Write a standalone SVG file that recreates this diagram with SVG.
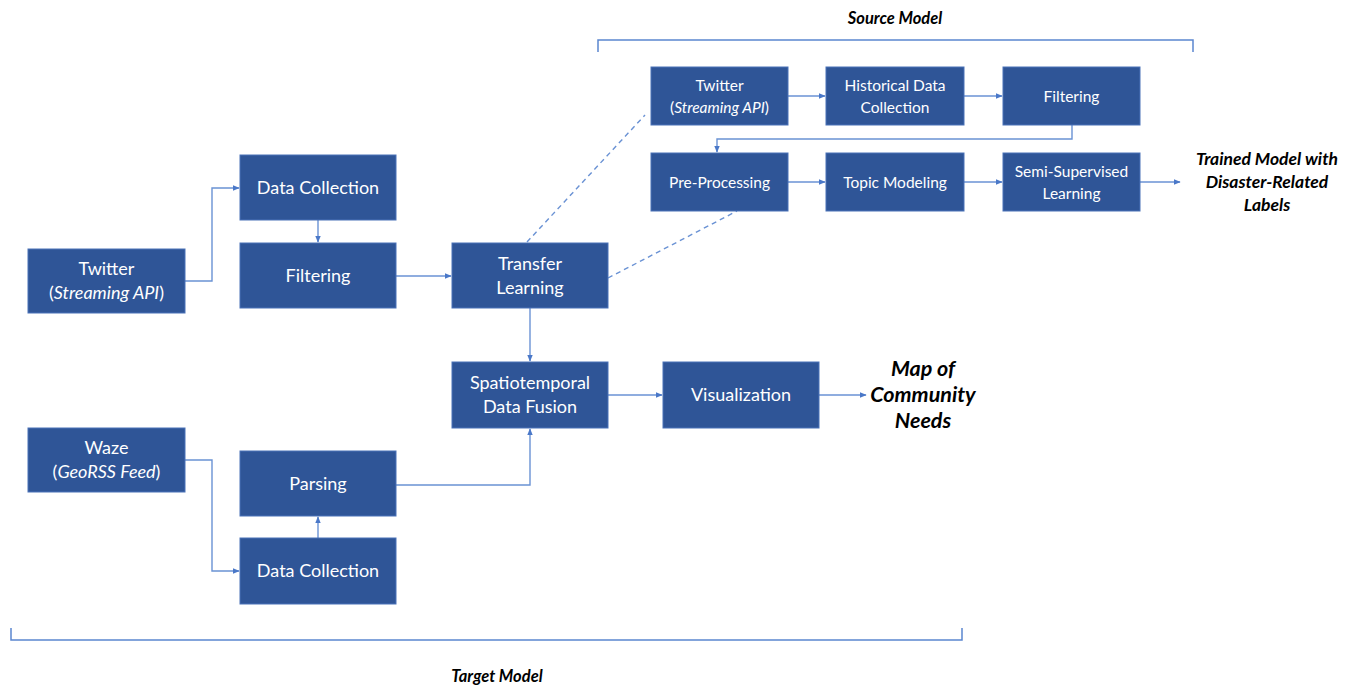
<svg xmlns="http://www.w3.org/2000/svg" width="1357" height="686" viewBox="0 0 1357 686">
<defs>
<marker id="ah" viewBox="0 0 10 10" refX="9" refY="5" markerWidth="7" markerHeight="7" orient="auto" markerUnits="userSpaceOnUse"><path d="M0,1 L10,5 L0,9 Z" fill="#4A78C8"/></marker>
<style>
.box{fill:#2F5597;stroke:#4A72B8;stroke-width:1}
.t{font-family:Lato,"Open Sans",sans-serif;fill:#fff;text-anchor:middle}
.big{font-size:18px}
.sm{font-size:15.5px}
.c{fill:none;stroke:#6A92D4;stroke-width:1.4}
.a{marker-end:url(#ah)}
.d{stroke-dasharray:5,4}
.lab{font-family:Lato,"Open Sans",sans-serif;font-weight:bold;font-style:italic;fill:#000;text-anchor:middle}
.br{fill:none;stroke:#5B86CF;stroke-width:1.5}
</style>
</defs>
<rect width="1357" height="686" fill="#fff"/>
<g id="brackets">
<path class="br" d="M598,52 V40 H1193 V52"/>
<path class="br" d="M11,628 V640 H962 V628"/>
</g>
<g id="connectors">
<path class="c a" d="M185,281 H212 V188 H239"/>
<path class="c a" d="M318,220 V242"/>
<path class="c a" d="M396,276 H451"/>
<path class="c a" d="M530,308 V361"/>
<path class="c a" d="M608,395 H662"/>
<path class="c a" d="M819,395 H866"/>
<path class="c a" d="M185,460 H212 V571 H239"/>
<path class="c a" d="M318,538 V517"/>
<path class="c a" d="M396,485 H530 V429"/>
<path class="c d" d="M527,242 L645,115"/>
<path class="c d" d="M608,278 L737,211"/>
<path class="c a" d="M788,96 H825"/>
<path class="c a" d="M964,96 H1002"/>
<path class="c a" d="M1072,125 V139 H717 V152"/>
<path class="c a" d="M788,182 H825"/>
<path class="c a" d="M964,182 H1002"/>
<path class="c a" d="M1140,182 H1180"/>
</g>
<g id="n-twitter1"><rect class="box" x="28" y="249" width="157" height="64"/><text class="t big" x="106.5" y="275">Twitter</text><text class="t big" x="106.5" y="299">(<tspan font-style="italic">Streaming API</tspan>)</text></g>
<g id="n-datacoll1"><rect class="box" x="240" y="155" width="156" height="65"/><text class="t big" x="318" y="194">Data Collection</text></g>
<g id="n-filter1"><rect class="box" x="240" y="243" width="156" height="65"/><text class="t big" x="318" y="282">Filtering</text></g>
<g id="n-transfer"><rect class="box" x="452" y="243" width="156" height="65"/><text class="t big" x="530" y="270">Transfer</text><text class="t big" x="530" y="294">Learning</text></g>
<g id="n-fusion"><rect class="box" x="452" y="362" width="156" height="66"/><text class="t big" x="530" y="389">Spatiotemporal</text><text class="t big" x="530" y="413">Data Fusion</text></g>
<g id="n-vis"><rect class="box" x="663" y="362" width="156" height="66"/><text class="t big" x="741" y="401">Visualization</text></g>
<g id="n-waze"><rect class="box" x="28" y="428" width="157" height="64"/><text class="t big" x="106.5" y="454">Waze</text><text class="t big" x="106.5" y="478">(<tspan font-style="italic">GeoRSS Feed</tspan>)</text></g>
<g id="n-parsing"><rect class="box" x="240" y="451" width="156" height="65"/><text class="t big" x="318" y="490">Parsing</text></g>
<g id="n-datacoll2"><rect class="box" x="240" y="538" width="156" height="66"/><text class="t big" x="318" y="577">Data Collection</text></g>
<g id="n-twitter2"><rect class="box" x="651" y="67" width="137" height="58"/><text class="t sm" x="719.5" y="91">Twitter</text><text class="t sm" x="719.5" y="113">(<tspan font-style="italic">Streaming API</tspan>)</text></g>
<g id="n-hist"><rect class="box" x="826" y="67" width="138" height="58"/><text class="t sm" x="895" y="91">Historical Data</text><text class="t sm" x="895" y="113">Collection</text></g>
<g id="n-filter2"><rect class="box" x="1003" y="67" width="137" height="58"/><text class="t sm" x="1071.5" y="102">Filtering</text></g>
<g id="n-prep"><rect class="box" x="651" y="153" width="137" height="58"/><text class="t sm" x="719.5" y="188">Pre-Processing</text></g>
<g id="n-topic"><rect class="box" x="826" y="153" width="138" height="58"/><text class="t sm" x="895" y="188">Topic Modeling</text></g>
<g id="n-semi"><rect class="box" x="1003" y="153" width="137" height="58"/><text class="t sm" x="1071.5" y="177">Semi-Supervised</text><text class="t sm" x="1071.5" y="199">Learning</text></g>
<g id="labels">
<text class="lab" x="895" y="24" font-size="16.5">Source Model</text>
<text class="lab" x="497" y="682" font-size="16.5">Target Model</text>
<text class="lab" x="923" y="376" font-size="21.5">Map of</text>
<text class="lab" x="923" y="402" font-size="21.5">Community</text>
<text class="lab" x="923" y="428" font-size="21.5">Needs</text>
<text class="lab" x="1267" y="165" font-size="17.5">Trained Model with</text>
<text class="lab" x="1267" y="188" font-size="17.5">Disaster-Related</text>
<text class="lab" x="1267" y="211" font-size="17.5">Labels</text>
</g>
</svg>
